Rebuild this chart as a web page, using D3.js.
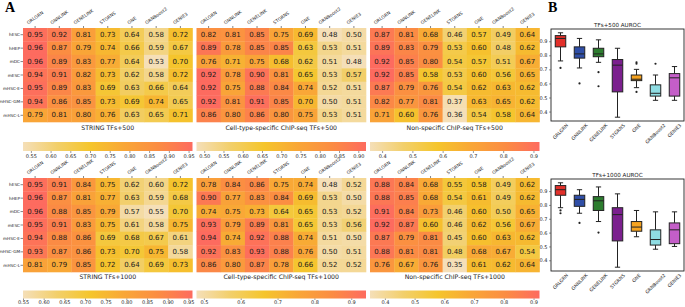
<!DOCTYPE html>
<html><head><meta charset="utf-8">
<script src="https://cdn.jsdelivr.net/npm/d3@7"></script>
<style>body{margin:0;background:#fff}svg{display:block;font-family:"DejaVu Sans",sans-serif}</style>
</head><body><svg id="c" width="685" height="307"></svg>
<script>
const methods = ["GRLGRN","GNNLINK","GENELINK","STGRNS","GNE","GRNBoost2","GENIE3"];
const datasets = ["hESC","hHEP","mDC","mESC","mHSC-E","mHSC-GM","mHSC-L"];
const string500 = [
 [0.95,0.92,0.81,0.73,0.64,0.58,0.72],[0.96,0.87,0.79,0.74,0.66,0.59,0.67],[0.96,0.89,0.83,0.77,0.64,0.53,0.70],
 [0.94,0.91,0.82,0.73,0.62,0.58,0.72],[0.95,0.89,0.83,0.69,0.63,0.66,0.64],[0.94,0.86,0.85,0.73,0.69,0.74,0.65],
 [0.79,0.81,0.80,0.76,0.63,0.65,0.71]];
const cell500 = [
 [0.82,0.81,0.85,0.75,0.69,0.48,0.50],[0.89,0.78,0.85,0.85,0.63,0.53,0.51],[0.76,0.71,0.75,0.68,0.62,0.51,0.48],
 [0.92,0.78,0.90,0.81,0.65,0.53,0.57],[0.92,0.75,0.88,0.84,0.74,0.52,0.51],[0.92,0.81,0.91,0.85,0.70,0.50,0.51],
 [0.86,0.80,0.86,0.80,0.75,0.53,0.51]];
const non500 = [
 [0.87,0.81,0.68,0.46,0.57,0.49,0.64],[0.89,0.83,0.79,0.53,0.60,0.48,0.62],[0.92,0.85,0.80,0.54,0.57,0.51,0.67],
 [0.92,0.85,0.58,0.53,0.60,0.56,0.65],[0.87,0.79,0.76,0.54,0.62,0.63,0.62],[0.82,0.77,0.81,0.37,0.63,0.65,0.62],
 [0.71,0.60,0.76,0.36,0.54,0.58,0.64]];
const string1000 = [
 [0.95,0.91,0.84,0.75,0.62,0.60,0.72],[0.96,0.87,0.81,0.77,0.63,0.59,0.68],[0.96,0.88,0.85,0.79,0.57,0.55,0.70],
 [0.95,0.91,0.83,0.75,0.61,0.58,0.75],[0.94,0.88,0.86,0.69,0.68,0.67,0.61],[0.93,0.87,0.86,0.73,0.70,0.75,0.58],
 [0.81,0.79,0.85,0.72,0.64,0.69,0.73]];
const cell1000 = [
 [0.78,0.84,0.86,0.75,0.74,0.48,0.52],[0.90,0.77,0.83,0.84,0.69,0.53,0.50],[0.74,0.75,0.73,0.64,0.65,0.53,0.52],
 [0.93,0.79,0.89,0.81,0.65,0.53,0.56],[0.94,0.74,0.92,0.88,0.74,0.51,0.50],[0.92,0.83,0.93,0.88,0.76,0.50,0.51],
 [0.86,0.80,0.87,0.78,0.66,0.52,0.52]];
const non1000 = [
 [0.88,0.84,0.68,0.55,0.58,0.49,0.62],[0.88,0.85,0.68,0.54,0.61,0.49,0.62],[0.91,0.84,0.73,0.46,0.60,0.50,0.65],
 [0.92,0.87,0.60,0.46,0.62,0.56,0.67],[0.87,0.79,0.81,0.45,0.60,0.63,0.62],[0.88,0.81,0.81,0.48,0.68,0.67,0.54],
 [0.76,0.67,0.76,0.35,0.61,0.62,0.64]];
const titles = ["STRING TFs+500","Cell-type-specific ChIP-seq TFs+500","Non-specific ChIP-seq TFs+500",
                "STRING TFs+1000","Cell-type-specific ChIP-seq TFs+1000","Non-specific ChIP-seq TFs+1000"];
const cbTicks = [
 [0.55,0.60,0.65,0.70,0.75,0.80,0.85,0.90,0.95],[0.50,0.55,0.60,0.65,0.70,0.75,0.80,0.85,0.90],[0.4,0.5,0.6,0.7,0.8,0.9],
 [0.55,0.60,0.65,0.70,0.75,0.80,0.85,0.90,0.95],[0.5,0.6,0.7,0.8,0.9],[0.4,0.5,0.6,0.7,0.8,0.9]];
const cbFormat = [".2f",".2f",".1f",".2f",".1f",".1f"];
const boxTitles = ["TFs+500 AUROC","TFs+1000 AUROC"];
const boxColors = ["#e2302a","#2f4ea6","#2d7d2f","#7b1f8e","#f6a31f","#8fdde3","#c45ec8"];

const svg = d3.select("#c");
const mats = [string500,cell500,non500,string1000,cell1000,non1000];
const hx = [23,196.5,370], hw = 169.5, hy = [28,178], hh = 94;
const titleY = [130,279], cbY = [142,290.5], cbH = [9,8], cbTick = [2,1.5], cbPad = [1.5,0.8];
const stops = ["#f5dfb8","#f2cf6a","#f5c52c","#f9a637","#fb8c43","#fd6b5f"];
const ang = 35, sa = Math.sin(ang*Math.PI/180), ca = Math.cos(ang*Math.PI/180);

svg.append("text").attr("x",5).attr("y",11.5).text("A").attr("font-family","Liberation Serif, serif").attr("font-weight","bold").attr("font-size",14);
svg.append("text").attr("x",548).attr("y",11.5).text("B").attr("font-family","Liberation Serif, serif").attr("font-weight","bold").attr("font-size",14);

const defs = svg.append("defs");
mats.forEach((m,k)=>{
  const col = k%3, row = Math.floor(k/3);
  const x0 = hx[col], y0 = hy[row];
  const ext = d3.extent(m.flat());
  const tScale = d3.scaleLinear().domain(ext).range([0,1]);
  const cScale = d3.scaleLinear().domain(d3.range(stops.length).map(i=>i/(stops.length-1))).range(stops).interpolate(d3.interpolateRgb);
  const color = v => cScale(tScale(v));
  const xs = d3.scaleBand().domain(methods).range([x0,x0+hw]);
  const ys = d3.scaleBand().domain(datasets).range([y0,y0+hh]);
  const g = svg.append("g");
  datasets.forEach((ds,i)=>methods.forEach((me,j)=>{
    const v = m[i][j];
    g.append("rect").attr("x",xs(me)).attr("y",ys(ds)).attr("width",xs.bandwidth()+0.3).attr("height",ys.bandwidth()+0.3).attr("fill",color(v));
    g.append("text").attr("x",xs(me)+xs.bandwidth()/2).attr("y",ys(ds)+ys.bandwidth()/2).attr("text-anchor","middle")
      .attr("dominant-baseline","central").attr("font-size",7).attr("fill","#1a1a1a").text(v.toFixed(2));
  }));
  if(col===0){
    datasets.forEach(ds=>{
      const yy = ys(ds)+ys.bandwidth()/2;
      g.append("line").attr("x1",x0-2.5).attr("x2",x0).attr("y1",yy).attr("y2",yy).attr("stroke","#333").attr("stroke-width",0.6);
      g.append("text").attr("x",x0-3).attr("y",yy).attr("text-anchor","end").attr("dominant-baseline","central").attr("font-size",4.2).attr("fill","#222").text(ds);
    });
  }
  methods.forEach(me=>{
    const cx = xs(me)+xs.bandwidth()/2;
    g.append("line").attr("x1",cx).attr("x2",cx).attr("y1",y0-2).attr("y2",y0).attr("stroke","#333").attr("stroke-width",0.6);
    const fs = 4.5;
    const t = g.append("text").attr("text-anchor","middle").attr("dominant-baseline","central").attr("font-size",fs).attr("fill","#222").text(me);
    const L = t.node().getComputedTextLength();
    const h = L*sa + fs*ca;
    t.attr("transform",`translate(${cx},${y0-3-h/2}) rotate(${-ang})`);
  });
  g.append("text").attr("x",x0+hw/2).attr("y",titleY[row]).attr("text-anchor","middle").attr("font-size",6.2).attr("fill","#222").text(titles[k]);
  const gid = "cb"+k;
  const lg = defs.append("linearGradient").attr("id",gid);
  d3.range(0,1.0001,0.05).forEach(t=>lg.append("stop").attr("offset",t).attr("stop-color",cScale(t)));
  const cbs = d3.scaleLinear().domain(ext).range([x0,x0+hw]);
  g.append("rect").attr("x",x0).attr("y",cbY[row]).attr("width",hw).attr("height",cbH[row]).attr("fill",`url(#${gid})`);
  const ax = d3.axisBottom(cbs).tickValues(cbTicks[k]).tickFormat(d3.format(cbFormat[k])).tickSize(cbTick[row]).tickPadding(cbPad[row]);
  const ag = g.append("g").attr("transform",`translate(0,${cbY[row]+cbH[row]})`).call(ax);
  ag.select(".domain").remove();
  ag.selectAll("line").attr("stroke","#333").attr("stroke-width",0.5);
  ag.selectAll("text").attr("font-size",5).attr("fill","#222").attr("font-family","DejaVu Sans");
});

const groups = [[string500,cell500,non500],[string1000,cell1000,non1000]];
const bx0 = 551, bx1 = 684, by = [[29,121],[179,271]];
groups.forEach((grp,r)=>{
  const vals = methods.map((me,j)=>grp.flatMap(m=>m.map(rw=>rw[j])).sort(d3.ascending));
  const ext = d3.extent(vals.flat()), pad = (ext[1]-ext[0])*0.045;
  const ys = d3.scaleLinear().domain([ext[0]-pad,ext[1]+pad]).range([by[r][1],by[r][0]]);
  const xs = d3.scaleBand().domain(methods).range([bx0,bx1]);
  const g = svg.append("g");
  g.append("rect").attr("x",bx0).attr("y",by[r][0]).attr("width",bx1-bx0).attr("height",by[r][1]-by[r][0]).attr("fill","none").attr("stroke","#222").attr("stroke-width",0.9);
  const ya = d3.axisLeft(ys).tickValues([0.4,0.5,0.6,0.7,0.8,0.9]).tickFormat(d3.format(".1f")).tickSize(2).tickPadding(1.5);
  const yg = g.append("g").attr("transform",`translate(${bx0},0)`).call(ya);
  yg.select(".domain").remove();
  yg.selectAll("line").attr("stroke","#333").attr("stroke-width",0.5);
  yg.selectAll("text").attr("font-size",5).attr("fill","#222").attr("font-family","DejaVu Sans");
  g.append("text").attr("x",(bx0+bx1)/2).attr("y",by[r][0]-2.5).attr("text-anchor","middle").attr("font-size",5.6).attr("fill","#222").text(boxTitles[r]);
  const bw = 10.5;
  vals.forEach((v,j)=>{
    const cx = xs(methods[j])+xs.bandwidth()/2;
    const q1 = d3.quantile(v,0.25), med = d3.quantile(v,0.5), q3 = d3.quantile(v,0.75);
    const iqr = q3-q1;
    const lo = d3.min(v.filter(d=>d>=q1-1.5*iqr)), hi = d3.max(v.filter(d=>d<=q3+1.5*iqr));
    const outl = v.filter(d=>d<lo||d>hi);
    g.append("line").attr("x1",cx).attr("x2",cx).attr("y1",ys(hi)).attr("y2",ys(q3)).attr("stroke","#222").attr("stroke-width",1);
    g.append("line").attr("x1",cx).attr("x2",cx).attr("y1",ys(q1)).attr("y2",ys(lo)).attr("stroke","#222").attr("stroke-width",1);
    [lo,hi].forEach(w=>g.append("line").attr("x1",cx-bw/4).attr("x2",cx+bw/4).attr("y1",ys(w)).attr("y2",ys(w)).attr("stroke","#222").attr("stroke-width",1));
    g.append("rect").attr("x",cx-bw/2).attr("y",ys(q3)).attr("width",bw).attr("height",Math.max(0.5,ys(q1)-ys(q3)))
      .attr("fill",boxColors[j]).attr("stroke","#222").attr("stroke-width",1);
    g.append("line").attr("x1",cx-bw/2).attr("x2",cx+bw/2).attr("y1",ys(med)).attr("y2",ys(med)).attr("stroke","#222").attr("stroke-width",1);
    outl.forEach(o=>g.append("circle").attr("cx",cx).attr("cy",ys(o)).attr("r",1.1).attr("fill","#222"));
    const fs = 4.6;
    const t = g.append("text").attr("text-anchor","middle").attr("dominant-baseline","central").attr("font-size",fs).attr("fill","#222").text(methods[j]);
    const L = t.node().getComputedTextLength();
    const h = (L+fs)*0.7071;
    t.attr("transform",`translate(${cx},${by[r][1]+2+h/2}) rotate(-45)`);
  });
});
</script></body></html>
